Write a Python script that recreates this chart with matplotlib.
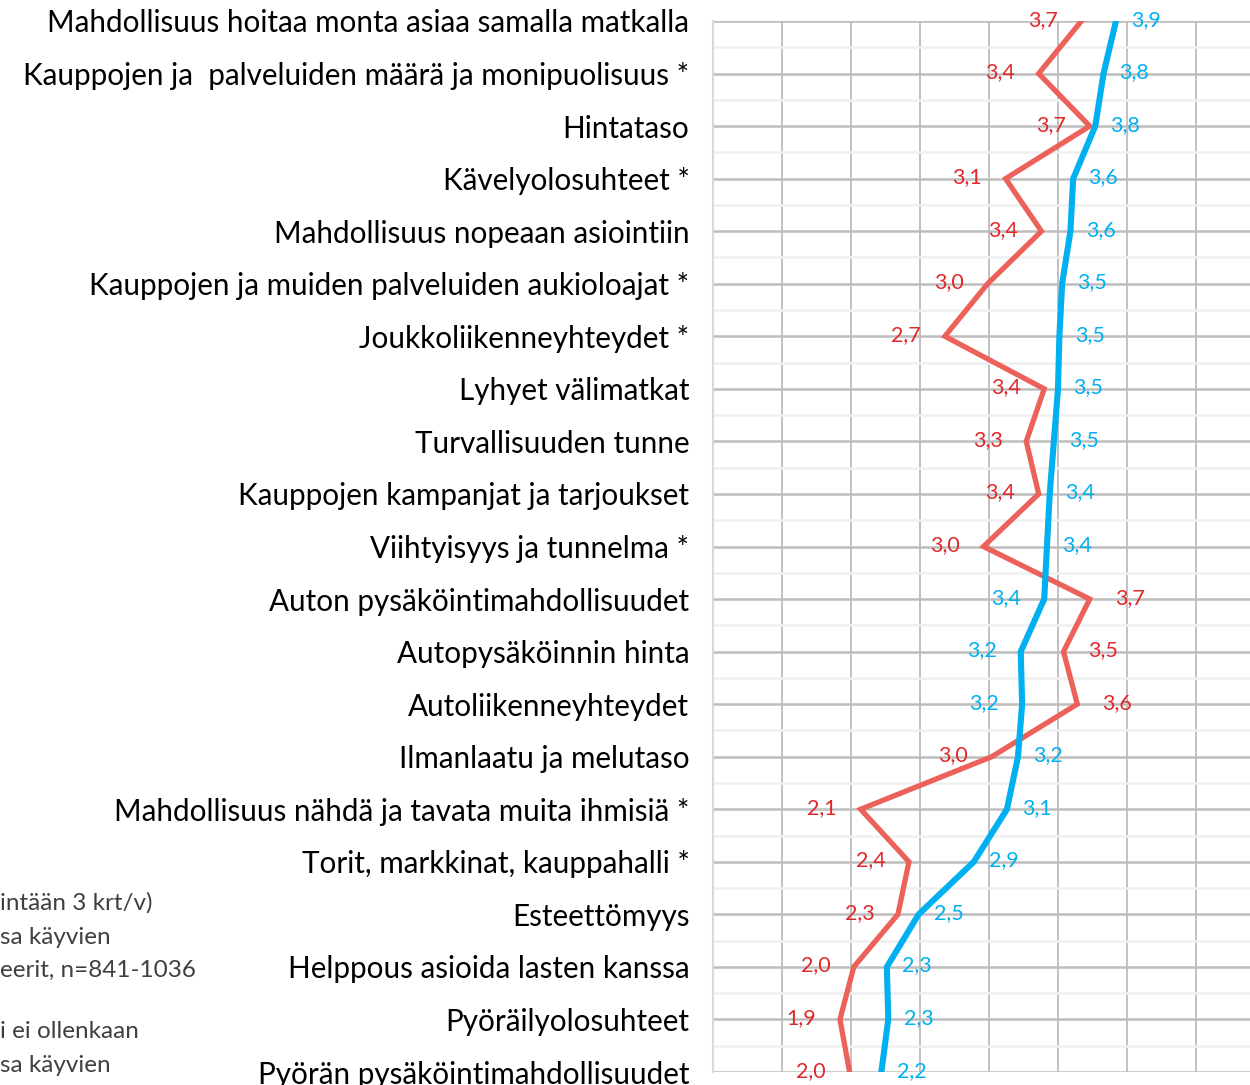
import numpy as np
import matplotlib.pyplot as plt

plt.rcParams['font.family'] = ['Lato', 'DejaVu Sans']

categories = [
    'Mahdollisuus hoitaa monta asiaa samalla matkalla',
    'Kauppojen ja  palveluiden määrä ja monipuolisuus *',
    'Hintataso',
    'Kävelyolosuhteet *',
    'Mahdollisuus nopeaan asiointiin',
    'Kauppojen ja muiden palveluiden aukioloajat *',
    'Joukkoliikenneyhteydet *',
    'Lyhyet välimatkat',
    'Turvallisuuden tunne',
    'Kauppojen kampanjat ja tarjoukset',
    'Viihtyisyys ja tunnelma *',
    'Auton pysäköintimahdollisuudet',
    'Autopysäköinnin hinta',
    'Autoliikenneyhteydet',
    'Ilmanlaatu ja melutaso',
    'Mahdollisuus nähdä ja tavata muita ihmisiä *',
    'Torit, markkinat, kauppahalli *',
    'Esteettömyys',
    'Helppous asioida lasten kanssa',
    'Pyöräilyolosuhteet',
    'Pyörän pysäköintimahdollisuudet',
]

# keskiarvot (asteikko 1-5)
usein = [3.92, 3.83, 3.77, 3.61, 3.59, 3.53, 3.51, 3.50, 3.47, 3.44, 3.42,
         3.40, 3.23, 3.24, 3.21, 3.13, 2.89, 2.49, 2.26, 2.27, 2.22]
harvoin = [3.67, 3.36, 3.73, 3.12, 3.38, 2.99, 2.68, 3.40, 3.27, 3.36, 2.96,
           3.73, 3.54, 3.64, 3.02, 2.07, 2.42, 2.34, 2.02, 1.92, 1.99]

legend_bits = ['intään 3 krt/v)', 'sa käyvien', 'eerit, n=841-1036',
               'i ei ollenkaan', 'sa käyvien']

blue = '#00B0F0'
red_line = '#EC6159'
red_text = '#E0282B'

W, H = 1250, 1085
fig = plt.figure(figsize=(W / 100, H / 100), dpi=100)
# x=1 at 713 px, one unit = 138 px; plot area continues past the right edge
left = 713 / W
width = 4 * 138 / W
top = 21
bottom = 1072
ax = fig.add_axes([left, 1 - bottom / H, width, (bottom - top) / H])

y = np.arange(1, len(categories) + 1)
ax.plot(harvoin, y, color=red_line, lw=3.8, solid_joinstyle='miter', zorder=3)
ax.plot(usein, y, color=blue, lw=4.4, solid_joinstyle='miter', zorder=4)

ax.set_xlim(1, 5)
ax.set_ylim(len(categories), 1)
ax.set_xticks(np.arange(1, 5.01, 0.5))
ax.set_yticks(y)
ax.set_yticks(y[:-1] + 0.5, minor=True)
ax.set_yticklabels(categories, fontsize=21.3, color='black')
ax.tick_params(axis='y', length=0, pad=17)
ax.tick_params(axis='y', which='minor', length=0)
ax.tick_params(axis='x', length=0, labelbottom=False)

ax.grid(axis='x', color='#c0c0c0', lw=1.4)
ax.grid(axis='y', which='major', color='#bdbdbd', lw=1.8)
ax.grid(axis='y', which='minor', color='#f0f0f0', lw=1.8)
ax.set_axisbelow(True)
for s in ['top', 'right', 'bottom']:
    ax.spines[s].set_visible(False)
ax.spines['left'].set_color('#d9d9d9')
ax.spines['left'].set_linewidth(1.5)

# arvot: pienempi vasemmalle, suurempi oikealle
for yi, b, r in zip(y, usein, harvoin):
    for v, col, other in ((b, blue, r), (r, red_text, b)):
        txt = f'{v:.1f}'.replace('.', ',')
        if v >= other:
            dx = 11 if col == blue else 18
            ax.annotate(txt, (v, yi), xytext=(dx, 1), textcoords='offset points',
                        ha='left', va='center', fontsize=15.5, color=col)
        else:
            ax.annotate(txt, (v, yi), xytext=(-17, 1), textcoords='offset points',
                        ha='right', va='center', fontsize=15.5, color=col)

for txt, py in zip(legend_bits, [903, 937, 970, 1032, 1065]):
    fig.text(0.0, 1 - py / H, txt, fontsize=17.5, color='#404040',
             ha='left', va='center')

fig.savefig('out.png', dpi=100)
